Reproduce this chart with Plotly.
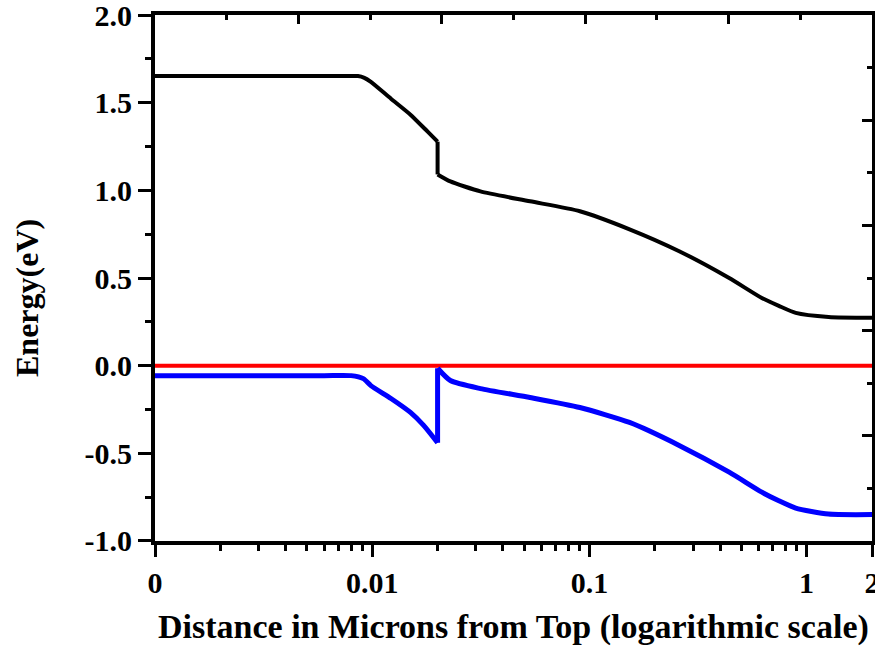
import plotly.graph_objects as go

# Data
x_cb = [0.001, 0.0065, 0.0086, 0.0092, 0.00986, 0.0122, 0.0150, 0.0180, 0.0200, 0.0200, 0.0229,
        0.0315, 0.0533, 0.0904, 0.153, 0.259, 0.44, 0.622, 0.745, 0.891, 1.262, 2.0]
y_cb = [1.652, 1.652, 1.652, 1.642, 1.619, 1.523, 1.432, 1.335, 1.278, 1.091, 1.051,
        0.994, 0.9375, 0.881, 0.778, 0.653, 0.500, 0.386, 0.341, 0.301, 0.278, 0.273]

x_vb = [0.001, 0.006, 0.0080, 0.0091, 0.00986, 0.0122, 0.0150, 0.01725, 0.0200, 0.0200, 0.0229,
        0.0315, 0.0533, 0.0904, 0.153, 0.259, 0.44, 0.622, 0.745, 0.891, 1.262, 2.0]
y_vb = [-0.057, -0.057, -0.057, -0.074, -0.114, -0.1875, -0.267, -0.341, -0.44, -0.015, -0.085,
        -0.131, -0.182, -0.239, -0.324, -0.455, -0.608, -0.722, -0.771, -0.8125, -0.847, -0.850]

x_ef = [0.001, 2.0]
y_ef = [0.0, 0.0]

x_tickvals = [0.001, 0.01, 0.1, 1, 2]
x_ticktext = ["0", "0.01", "0.1", "1", "2"]
x_minor = [k * 10 ** e for e in (-3, -2, -1) for k in range(2, 10)]
y_tickvals = [-1.0, -0.5, 0.0, 0.5, 1.0, 1.5, 2.0]
y_ticktext = ["-1.0", "-0.5", "0.0", "0.5", "1.0", "1.5", "2.0"]

FONT = "Times New Roman, Liberation Serif, DejaVu Serif, serif"


def step_index(xs):
    # index of the vertical step (two points at the same x)
    return next(i for i in range(len(xs) - 1) if xs[i] == xs[i + 1])


fig = go.Figure()
fig.add_trace(go.Scatter(x=x_ef, y=y_ef, mode="lines",
                         line=dict(color="#ff0000", width=4), showlegend=False))
for xs, ys, col, w in [(x_cb, y_cb, "#000000", 4), (x_vb, y_vb, "#0000ff", 5)]:
    k = step_index(xs)
    parts = [(xs[:k + 1], ys[:k + 1], "spline"),
             (xs[k:k + 2], ys[k:k + 2], "linear"),
             (xs[k + 1:], ys[k + 1:], "spline")]
    for px, py, shp in parts:
        fig.add_trace(go.Scatter(x=px, y=py, mode="lines",
                                 line=dict(color=col, width=w, shape=shp,
                                           **({"smoothing": 0.6} if shp == "spline" else {})),
                                 showlegend=False))

# empty helper trace so the top/right tick axes get drawn
fig.add_trace(go.Scatter(x=[], y=[], xaxis="x2", yaxis="y2", mode="lines",
                         showlegend=False, hoverinfo="skip"))

tick_font = dict(family=FONT, size=30, color="black", weight="bold")

fig.update_layout(
    width=875, height=646,
    margin=dict(l=155, r=3, t=15, b=105, autoexpand=False),
    paper_bgcolor="white", plot_bgcolor="white",
    font=dict(family=FONT, color="black"),
    xaxis=dict(
        type="log", range=[-3, 0.30103], automargin=False,
        tickmode="array", tickvals=x_tickvals, ticktext=x_ticktext,
        ticks="outside", ticklen=12, tickwidth=3, tickcolor="black",
        minor=dict(tickmode="array", tickvals=x_minor, ticks="outside",
                   ticklen=6, tickwidth=3, tickcolor="black", showgrid=False),
        showline=True, linewidth=4, linecolor="black", mirror=True,
        showgrid=False, zeroline=False, tickfont=tick_font,
        ticklabeloverflow="allow",
    ),
    yaxis=dict(
        range=[-1.0005, 2.0005], automargin=False,
        tickmode="array", tickvals=y_tickvals, ticktext=y_ticktext,
        ticks="outside", ticklen=13, tickwidth=3, tickcolor="black",
        minor=dict(dtick=0.25, ticks="outside", ticklen=6, tickwidth=3,
                   tickcolor="black", showgrid=False),
        showline=True, linewidth=4, linecolor="black", mirror=True,
        showgrid=False, zeroline=False, tickfont=tick_font,
        ticklabeloverflow="allow",
    ),
    xaxis2=dict(
        overlaying="x", side="top", anchor="y2", range=[0, 10], automargin=False,
        tickmode="linear", tick0=0, dtick=2, ticks="inside", ticklen=9,
        tickwidth=3, tickcolor="black", showticklabels=False,
        minor=dict(dtick=1, ticks="inside", ticklen=5, tickwidth=3,
                   tickcolor="black", showgrid=False),
        showline=False, showgrid=False, zeroline=False,
    ),
    yaxis2=dict(
        overlaying="y", side="right", anchor="x2", range=[0, 10], automargin=False,
        tickmode="linear", tick0=0, dtick=2, ticks="inside", ticklen=10,
        tickwidth=3, tickcolor="black", showticklabels=False,
        minor=dict(dtick=1, ticks="inside", ticklen=5, tickwidth=3,
                   tickcolor="black", showgrid=False),
        showline=False, showgrid=False, zeroline=False,
    ),
    annotations=[
        dict(text="<b>Distance in Microns from Top (logarithmic scale)</b>",
             xref="paper", yref="paper", x=0.5, y=-0.163,
             xanchor="center", yanchor="middle", showarrow=False,
             font=dict(family=FONT, size=34, color="black")),
        dict(text="<b>Energy(eV)</b>", textangle=-90,
             xref="paper", yref="paper", x=-0.1785, y=0.462,
             xanchor="center", yanchor="middle", showarrow=False,
             font=dict(family=FONT, size=32, color="black")),
    ],
)

fig.write_html("out.html")
